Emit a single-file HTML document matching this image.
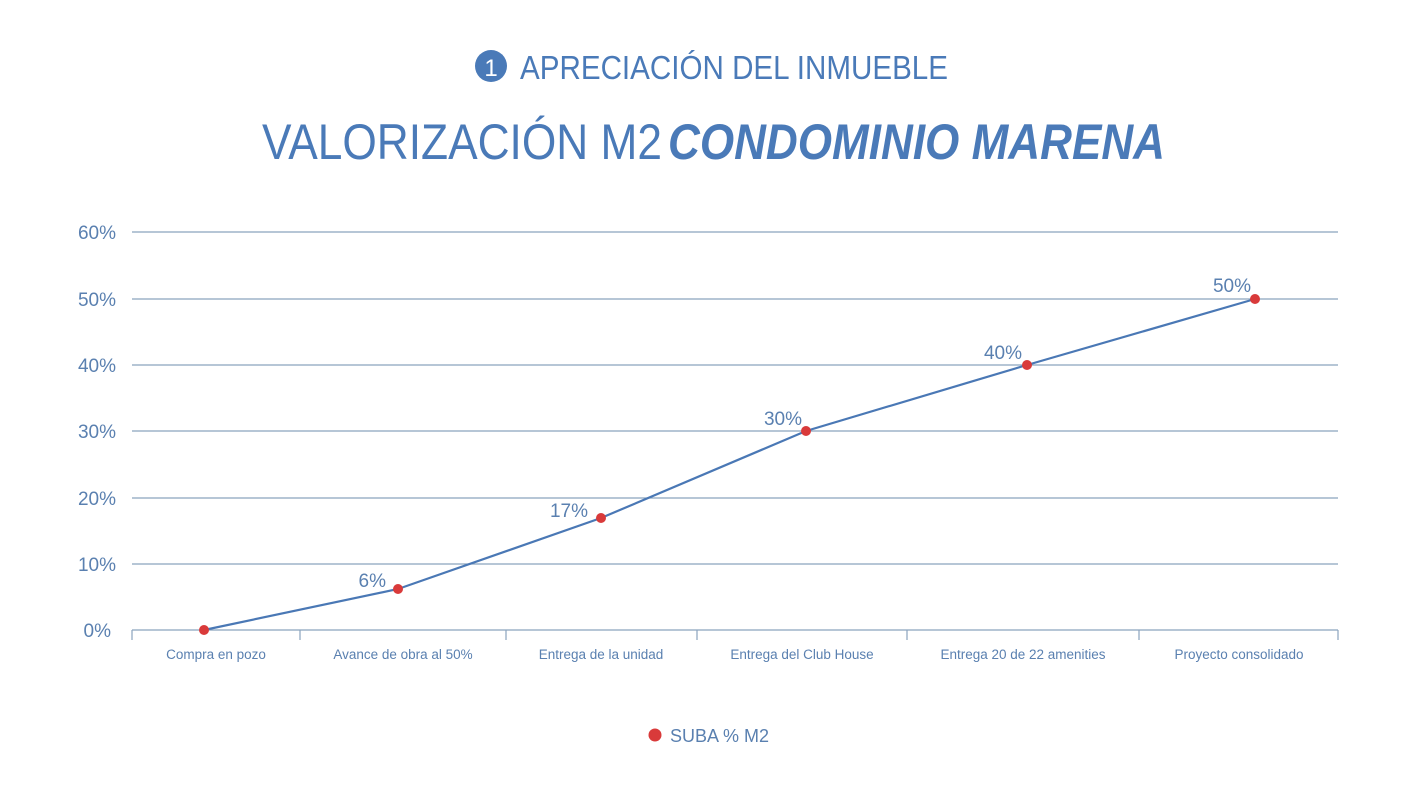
<!DOCTYPE html>
<html><head><meta charset="utf-8"><style>
html,body{margin:0;padding:0;background:#fff;}
svg{display:block;font-family:"Liberation Sans",sans-serif;}
</style></head><body>
<svg width="1422" height="800" viewBox="0 0 1422 800" xmlns="http://www.w3.org/2000/svg">
<circle cx="491" cy="66" r="16" fill="#4a7ab8"/>
<text x="491" y="76" fill="#fff" font-size="24" text-anchor="middle">1</text>
<text x="520" y="79" fill="#4a7ab8" font-size="33" textLength="428" lengthAdjust="spacingAndGlyphs">APRECIACIÓN DEL INMUEBLE</text>
<text x="262" y="159" fill="#4a7ab8" font-size="50" textLength="400" lengthAdjust="spacingAndGlyphs">VALORIZACIÓN M2</text>
<text x="668" y="159" fill="#4a7ab8" font-size="50" font-weight="bold" font-style="italic" textLength="497" lengthAdjust="spacingAndGlyphs">CONDOMINIO MARENA</text>
<g stroke="#8aa4be" stroke-width="1.2">
<line x1="132" y1="232" x2="1338" y2="232"/>
<line x1="132" y1="299" x2="1338" y2="299"/>
<line x1="132" y1="365" x2="1338" y2="365"/>
<line x1="132" y1="431" x2="1338" y2="431"/>
<line x1="132" y1="498" x2="1338" y2="498"/>
<line x1="132" y1="564" x2="1338" y2="564"/>
<line x1="132" y1="630" x2="1338" y2="630"/>
<line x1="132" y1="630" x2="132" y2="640"/>
<line x1="300" y1="630" x2="300" y2="640"/>
<line x1="506" y1="630" x2="506" y2="640"/>
<line x1="697" y1="630" x2="697" y2="640"/>
<line x1="907" y1="630" x2="907" y2="640"/>
<line x1="1139" y1="630" x2="1139" y2="640"/>
<line x1="1338" y1="630" x2="1338" y2="640"/>
</g>
<g fill="#5a80b0" font-size="19" text-anchor="end">
<text x="116" y="239">60%</text><text x="116" y="306">50%</text><text x="116" y="372">40%</text>
<text x="116" y="438">30%</text><text x="116" y="505">20%</text><text x="116" y="571">10%</text><text x="111" y="637">0%</text>
</g>
<g fill="#5a80b0" font-size="13.5" text-anchor="middle">
<text x="216" y="659">Compra en pozo</text>
<text x="403" y="659">Avance de obra al 50%</text>
<text x="601" y="659">Entrega de la unidad</text>
<text x="802" y="659">Entrega del Club House</text>
<text x="1023" y="659">Entrega 20 de 22 amenities</text>
<text x="1239" y="659">Proyecto consolidado</text>
</g>
<polyline fill="none" stroke="#4a78b5" stroke-width="2.2" points="204,630 398,589 601,518 806,431 1027,365 1255,299"/>
<g fill="#d93a3a">
<circle cx="204" cy="630" r="5"/><circle cx="398" cy="589" r="5"/><circle cx="601" cy="518" r="5"/>
<circle cx="806" cy="431" r="5"/><circle cx="1027" cy="365" r="5"/><circle cx="1255" cy="299" r="5"/>
</g>
<g fill="#5a80b0" font-size="19" text-anchor="end">
<text x="386" y="587">6%</text><text x="588" y="517">17%</text><text x="802" y="425">30%</text>
<text x="1022" y="359">40%</text><text x="1251" y="292">50%</text>
</g>
<circle cx="655" cy="735" r="6.5" fill="#d93a3a"/>
<text x="670" y="742" fill="#5a80b0" font-size="18">SUBA % M2</text>
</svg>
</body></html>
